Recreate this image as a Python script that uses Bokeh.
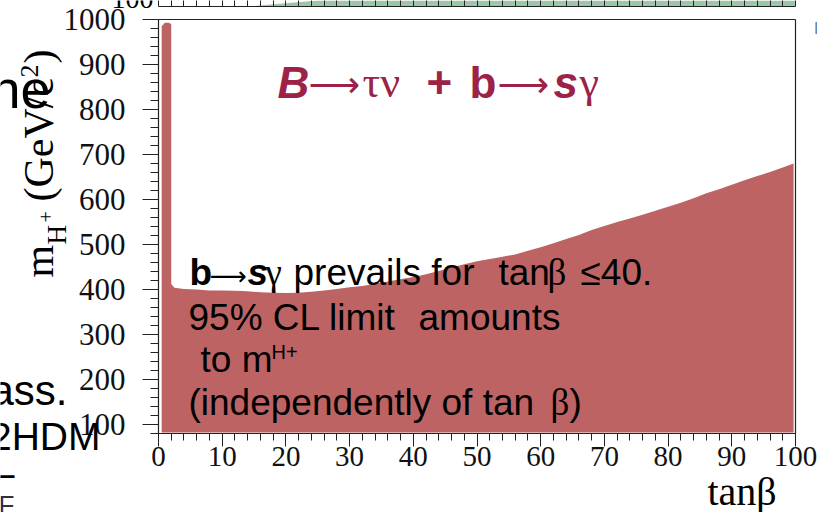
import math
from bokeh.plotting import figure
from bokeh.models import Label, FixedTicker, Range1d, LinearAxis
from bokeh.embed import file_html
from bokeh.resources import INLINE

# Excluded region: upper edge in m_H+ (GeV/c^2) versus tan(beta)
tanb = [0.5, 1.0, 1.6, 2.0, 2.0, 2.5, 4, 6, 8, 10, 12, 14, 16, 18, 20, 22, 24, 26,
        28, 30, 32, 34, 36, 38, 40, 42, 44, 46, 48, 50, 52, 54, 56, 58, 60, 62, 64,
        66, 68, 70, 72, 74, 76, 78, 80, 82, 84, 86, 88, 90, 92, 94, 96, 98, 99.7]
mh_limit = [985, 993, 993, 990, 412, 404, 401, 400, 398, 398, 397, 396, 394, 393,
            392, 393, 395, 398, 401, 405, 408, 413, 418, 423, 428, 434, 441, 449,
            456, 463, 468, 473, 478, 486, 494, 503, 512, 521, 532, 541, 550, 558,
            566, 575, 584, 593, 603, 614, 623, 633, 643, 652, 661, 671, 680]
mh_floor = 82

x_ticks = [0, 10, 20, 30, 40, 50, 60, 70, 80, 90, 100]
x_minor = list(range(0, 101, 2))
y_ticks = [100, 200, 300, 400, 500, 600, 700, 800, 900, 1000]
y_minor = list(range(80, 1001, 20))

# bottom edge of the panel above: allowed (green) band and its ticks
strip_tanb = [14, 19, 25, 100]
strip_frac = [0.0, 0.45, 1.0, 1.0]
strip_ticks = list(range(0, 101, 2))

RED = "#bd6363"
TITLE = "#9c2248"
GREEN = "#9dc6a8"
INK = "#222222"
SERIF = "Liberation Serif"
SANS = "Liberation Sans"

W, H = 833, 512
# page geometry of the plotting box: x=0 at px 158, x=100 at px 795; y=80 at py 433, y=1000 at py 19
PX0, PX100 = 158, 795
PY80, PY1000 = 433, 19
sx = (PX100 - PX0) / 100.0
sy = (PY80 - PY1000) / 920.0
x_lo, x_hi = -PX0 / sx, (W - PX0) / sx
y_lo, y_hi = 80 - (H - PY80) / sy, 1000 + PY1000 / sy

p = figure(width=W, height=H, x_range=Range1d(x_lo, x_hi), y_range=Range1d(y_lo, y_hi),
           output_backend="svg", toolbar_location=None,
           x_axis_location=None, y_axis_location=None, min_border=0)
p.outline_line_color = None
p.grid.visible = False

# labels are anchored on their baseline; the renderer sets glyphs about 0.35 em
# below the anchor, so the anchor is lifted by that amount
DROP = 0.35


def put(px, py, text, size, font=SANS, style="normal", color="black",
        angle=0.0, align="left"):
    if angle:
        px = px - DROP * size
    else:
        py = py - DROP * size
    p.add_layout(Label(x=px, y=H - py, x_units="screen", y_units="screen",
                       text=text, text_font=font, text_font_size=f"{size}px",
                       text_font_style=style, text_color=color, angle=angle,
                       text_align=align, text_baseline="alphabetic"))


def frame_axis(loc, side, bounds, ticker, tick_out=0, minor_out=0, label_size=None):
    ax = LinearAxis(fixed_location=loc, bounds=bounds, ticker=ticker)
    ax.axis_line_color = INK
    ax.axis_line_width = 1.2
    ax.major_tick_line_color = INK
    ax.minor_tick_line_color = INK
    ax.major_tick_in = 0
    ax.minor_tick_in = 0
    ax.major_tick_out = tick_out
    ax.minor_tick_out = minor_out
    if label_size:
        ax.major_label_text_font = SERIF
        ax.major_label_text_font_size = f"{label_size}px"
        ax.major_label_text_color = "#111111"
    else:
        ax.major_label_text_font_size = "0px"
        ax.major_label_text_color = None
    p.add_layout(ax, side)
    return ax


# panel above: green band between its bottom edge and the top of the page
strip_base = 1000 + (PY1000 - 6) / sy
strip_y2 = [strip_base + f * (y_hi - strip_base) for f in strip_frac]
p.varea(x=strip_tanb, y1=strip_base, y2=strip_y2, fill_color=GREEN)
frame_axis(strip_base, "above", (0, 100), FixedTicker(ticks=strip_ticks), tick_out=8)

# excluded region
p.varea(x=tanb, y1=mh_floor, y2=mh_limit, fill_color=RED)

# axes and box
xax = frame_axis(80, "below", (0, 100), FixedTicker(ticks=x_ticks, minor_ticks=x_minor),
                 tick_out=13, minor_out=7, label_size=29)
xax.major_label_standoff = 0
yax = frame_axis(0, "left", (80, 1000), FixedTicker(ticks=y_ticks, minor_ticks=y_minor),
                 tick_out=16, minor_out=8, label_size=31)
yax.major_label_standoff = 17
frame_axis(100, "right", (80, 1000), FixedTicker(ticks=[]))
frame_axis(1000, "above", (0, 100), FixedTicker(ticks=[]))

# axis titles
up = math.pi / 2
put(53, 277, "m", 42, font=SERIF, angle=up)
put(66, 244, "H", 27, font=SERIF, angle=up)
put(52, 222, "+", 20, font=SERIF, angle=up)
put(53, 201, "(GeV/c", 42, font=SERIF, angle=up)
put(38, 77, "2", 26, font=SERIF, angle=up)
put(53, 63, ")", 42, font=SERIF, angle=up)
put(707, 505, "tan\u03b2", 40, font=SERIF)
put(153, 8, "100", 28, font=SERIF, align="right")

# title
put(277, 97, "B", 44, style="bold italic", color=TITLE)
put(308, 97, "\u27f6", 36, font="DejaVu Sans", color=TITLE)
put(362, 97, "\u03c4\u03bd", 44, font=SERIF, color=TITLE)
put(426, 97, "+", 44, style="bold", color=TITLE)
put(469, 97, "b", 44, style="bold", color=TITLE)
put(497, 97, "\u27f6", 36, font="DejaVu Sans", color=TITLE)
put(553, 97, "s", 44, style="bold italic", color=TITLE)
put(579, 97, "\u03b3", 44, font=SERIF, color=TITLE)

# annotation block
put(189, 285, "b", 37, style="bold")
put(209, 285, "\u27f6", 26, font="DejaVu Sans")
put(247, 285, "s", 37, style="bold italic")
put(265, 285, "\u03b3", 37, font=SERIF)
put(293, 285, "prevails for", 37)
put(498, 285, "tan", 37)
put(547, 285, "\u03b2", 37, font=SERIF)
put(580, 285, "\u226440.", 37)
put(188, 330, "95% CL limit", 37)
put(418, 330, "amounts", 37)
put(200, 372, "to m", 37)
put(271, 358, "H+", 20)
put(188, 415, "(independently of tan", 37)
put(550, 415, "\u03b2", 37, font=SERIF)
put(569, 415, ")", 37)

# text of the surrounding page showing at the edges
put(50, 107, "ne", 54, align="right")
put(67, 405, "ass.", 42, align="right")
put(100, 450, "2HDM", 39, align="right")
put(14, 486, "\u2014", 40, align="right")
put(14, 514, "EF", 26, color="#333333", align="right")
put(814, 31, "|", 12, color="#333333")

open("out.html", "w").write(file_html(p, INLINE))
